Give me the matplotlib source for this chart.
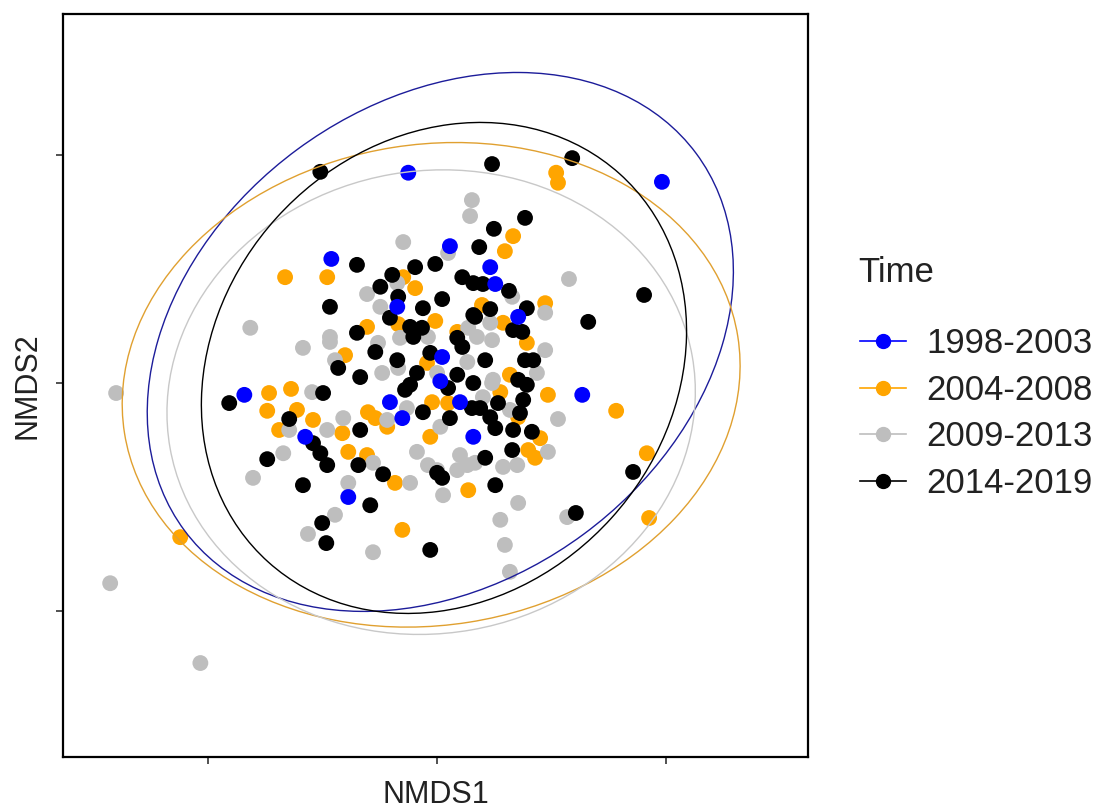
import numpy as np
import matplotlib
matplotlib.use("Agg")
import matplotlib.pyplot as plt
from matplotlib.patches import Ellipse
from matplotlib.lines import Line2D

plt.rcParams['font.family'] = ['Liberation Sans', 'DejaVu Sans']

groups = ['1998-2003', '2004-2008', '2009-2013', '2014-2019']
colors = ['#0000FF', '#FFA500', '#BEBEBE', '#000000']
ell_colors = ['#1c1c9a', '#e0a030', '#c8c8c8', '#000000']

# NMDS scores per period
x_9803 = [-0.063, 0.491, 0.028, -0.231, 0.116, 0.127, -0.087, 0.177, 0.011, 0.007,
          -0.421, -0.103, -0.076, 0.050, -0.288, 0.079, 0.317, -0.194]
y_9803 = [0.461, 0.441, 0.300, 0.272, 0.254, 0.217, 0.167, 0.145, 0.057, 0.004,
          -0.026, -0.042, -0.077, -0.042, -0.118, -0.118, -0.026, -0.250]

x_0408 = [0.260, 0.264, 0.166, 0.148, -0.332, -0.240, -0.074, -0.048, 0.236, 0.098,
          -0.004, 0.144, -0.153, -0.085, 0.044, 0.196, -0.201, -0.022, 0.159, 0.138,
          0.242, 0.391, 0.177, 0.225, 0.199, 0.214, 0.458, 0.463, 0.068, -0.319,
          -0.367, -0.371, -0.345, -0.306, -0.271, -0.207, -0.151, -0.135, -0.109, -0.011,
          0.024, -0.015, -0.194, -0.153, -0.092, -0.076, -0.561]
y_0408 = [0.461, 0.439, 0.322, 0.289, 0.232, 0.232, 0.232, 0.208, 0.175, 0.171,
          0.136, 0.132, 0.123, 0.129, 0.112, 0.088, 0.061, 0.044, 0.018, -0.020,
          -0.026, -0.061, -0.075, -0.121, -0.147, -0.164, -0.154, -0.296, -0.235, -0.013,
          -0.022, -0.061, -0.103, -0.059, -0.081, -0.110, -0.064, -0.077, -0.096, -0.042,
          -0.044, -0.118, -0.151, -0.158, -0.219, -0.322, -0.338]

x_0913 = [0.076, 0.072, -0.074, 0.024, -0.153, -0.087, -0.124, -0.234, 0.068, 0.288,
          0.164, 0.236, 0.116, -0.408, -0.701, -0.323, -0.336, -0.402, -0.293, -0.234,
          -0.223, -0.129, -0.120, -0.085, -0.273, -0.240, -0.205, -0.109, -0.066, 0.007,
          -0.140, -0.044, -0.020, 0.000, 0.050, 0.066, 0.044, -0.059, -0.194, 0.013,
          -0.223, 0.120, 0.236, 0.218, 0.120, 0.100, 0.159, 0.264, 0.242, 0.144,
          0.175, 0.083, 0.177, 0.284, 0.138, -0.714, -0.517, -0.282, -0.140, 0.148,
          0.159, -0.081, -0.020, 0.000, 0.066, 0.087, 0.122]
y_0913 = [0.401, 0.366, 0.309, 0.285, 0.195, 0.219, 0.167, 0.101, 0.121, 0.228,
          0.189, 0.154, 0.132, 0.121, -0.022, -0.103, -0.154, -0.208, 0.077, 0.090,
          0.050, 0.088, 0.022, 0.033, -0.020, -0.103, -0.077, -0.081, -0.055, -0.096,
          -0.175, -0.151, -0.180, -0.191, -0.158, -0.180, -0.191, -0.219, -0.219, -0.246,
          -0.289, 0.094, 0.072, 0.022, 0.000, -0.031, -0.059, -0.079, -0.151, -0.184,
          -0.180, -0.175, -0.263, -0.294, -0.300, -0.439, -0.614, -0.331, -0.371, -0.355,
          -0.414, 0.099, 0.101, 0.022, 0.046, 0.101, 0.007]

x_1419 = [-0.255, 0.295, 0.120, 0.192, 0.124, 0.092, -0.175, -0.048, -0.004, -0.098,
          0.055, 0.079, 0.100, -0.124, -0.085, 0.011, -0.031, -0.234, -0.103, -0.175,
          -0.059, -0.033, 0.079, 0.157, 0.452, 0.196, 0.116, 0.083, 0.166, 0.186,
          0.330, -0.454, -0.323, -0.371, -0.135, -0.216, -0.087, -0.168, -0.249, -0.044,
          -0.059, -0.070, -0.168, -0.031, 0.028, -0.015, 0.044, 0.024, 0.076, 0.079,
          -0.271, -0.255, -0.240, -0.172, -0.118, 0.000, 0.011, -0.293, -0.146, -0.251,
          -0.242, -0.015, 0.105, 0.192, 0.210, 0.177, 0.196, 0.188, 0.133, 0.094,
          0.116, 0.181, 0.127, 0.166, 0.207, 0.164, 0.105, 0.428, 0.127, 0.303,
          0.044, 0.055, -0.052]
y_1419 = [0.463, 0.493, 0.480, 0.362, 0.338, 0.298, 0.259, 0.254, 0.261, 0.237,
          0.232, 0.219, 0.217, 0.211, 0.189, 0.184, 0.164, 0.167, 0.143, 0.110,
          0.123, 0.121, 0.149, 0.202, 0.193, 0.164, 0.162, 0.145, 0.116, 0.112,
          0.134, -0.044, -0.079, -0.167, 0.068, 0.033, 0.050, 0.013, -0.022, 0.022,
          -0.004, -0.015, -0.103, -0.064, -0.077, 0.066, 0.018, -0.011, -0.055, 0.000,
          -0.132, -0.154, -0.180, -0.180, -0.200, -0.197, -0.208, -0.224, -0.268, -0.307,
          -0.351, -0.366, 0.050, 0.050, 0.050, 0.007, -0.004, -0.037, -0.044, -0.055,
          -0.075, -0.066, -0.099, -0.103, -0.107, -0.147, -0.164, -0.195, -0.224, -0.285,
          0.099, 0.079, 0.101]

# 95% ellipses: centre x, centre y, semi-axis a, semi-axis b, angle (deg)
ell_cx = [0.007, -0.013, -0.013, 0.015]
ell_cy = [0.090, -0.004, -0.042, 0.033]
ell_a = [0.695, 0.678, 0.579, 0.573]
ell_b = [0.525, 0.527, 0.507, 0.492]
ell_ang = [36.5, 9, 10, 48]

xs = [x_9803, x_0408, x_0913, x_1419]
ys = [y_9803, y_0408, y_0913, y_1419]

fig = plt.figure(figsize=(11.07, 8.11), dpi=100)
ax = fig.add_axes((63/1107, 54/811, 745/1107, 743/811))

for i in [1, 2, 3, 0]:
    ax.scatter(xs[i], ys[i], s=130, color=colors[i], edgecolors='none', zorder=2)

for i in range(4):
    e = Ellipse((ell_cx[i], ell_cy[i]), 2*ell_a[i], 2*ell_b[i], angle=ell_ang[i],
                fill=False, edgecolor=ell_colors[i], linewidth=1.0, zorder=3)
    ax.add_patch(e)

ax.set_xlim(-0.817, 0.810)
ax.set_ylim(-0.820, 0.809)
ax.set_xticks([-0.5, 0, 0.5])
ax.set_yticks([-0.5, 0, 0.5])
ax.set_xticklabels([])
ax.set_yticklabels([])
ax.tick_params(length=5, width=1.2, color='#333333')
for sp in ax.spines.values():
    sp.set_linewidth(1.6)
ax.set_xlabel('NMDS1', fontsize=22, color='#222222', labelpad=8)
ax.set_ylabel('NMDS2', fontsize=22, color='#222222', labelpad=6)

fig.text(858/1107, 1 - 272/811, 'Time', fontsize=25, color='#222222',
         ha='left', va='center')
handles = [Line2D([0], [0], color=colors[i], marker='o', markersize=10, linewidth=1.2)
           for i in range(4)]
leg = fig.legend(handles, groups, loc='center left',
                 bbox_to_anchor=(0.749, 0.490), frameon=False, fontsize=25,
                 handlelength=1.3, handletextpad=0.6, labelspacing=0.39)
for t in leg.get_texts():
    t.set_color('#222222')

fig.savefig('out.png', dpi=100)
